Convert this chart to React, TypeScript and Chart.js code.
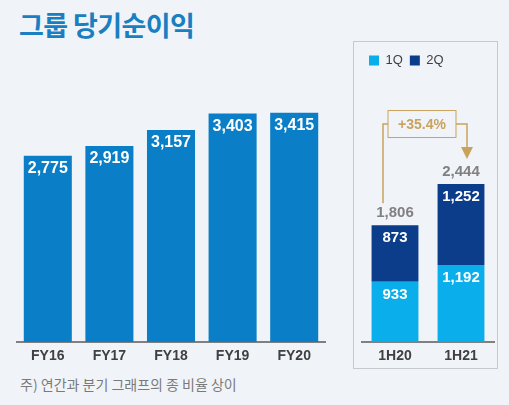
import React, { useEffect, useRef } from "react";
import { Chart, registerables } from "chart.js";

Chart.register(...registerables);

// ---- data ----
const titleText = "그룹 당기순이익";
const footnoteText = "주) 연간과 분기 그래프의 종 비율 상이";
const annualLabels = ["FY16", "FY17", "FY18", "FY19", "FY20"];
const annualValues = [2775, 2919, 3157, 3403, 3415];
const halfLabels = ["1H20", "1H21"];
const seriesNames = ["1Q", "2Q"];
const q1Values = [933, 1192];
const q2Values = [873, 1252];
const halfTotals = [1806, 2444];
const growthText = "+35.4%";

const BG = "#f0f4f9";
const FONT = '"Liberation Sans", Arial, sans-serif';
const GOLD = "#c9a35c";

const fmt = (v: number) => v.toLocaleString("en-US");

const insideLabels = (size: number) => ({
  id: "insideLabels",
  afterDatasetsDraw(chart: any) {
    const ctx = chart.ctx;
    ctx.save();
    ctx.fillStyle = "#ffffff";
    ctx.font = `bold ${size}px ${FONT}`;
    ctx.textAlign = "center";
    ctx.textBaseline = "middle";
    chart.data.datasets.forEach((ds: any, i: number) => {
      const meta = chart.getDatasetMeta(i);
      meta.data.forEach((bar: any, j: number) => {
        ctx.fillText(fmt(ds.data[j]), bar.x, bar.y + 13);
      });
    });
    ctx.restore();
  },
});

const growthPlugin = {
  id: "growth",
  afterDatasetsDraw(chart: any) {
    const ctx = chart.ctx;
    const tops = chart.getDatasetMeta(1).data;
    const a = tops[0];
    const b = tops[1];
    ctx.save();
    // totals
    ctx.fillStyle = "#808080";
    ctx.font = `bold 15px ${FONT}`;
    ctx.textAlign = "center";
    ctx.textBaseline = "middle";
    [a, b].forEach((bar: any, i: number) => {
      ctx.fillText(fmt(halfTotals[i]), bar.x, bar.y - 12);
    });
    // bracket
    const boxCx = (a.x + b.x) / 2 - 6;
    const boxCy = b.y - 60;
    const bw = 68;
    const bh = 27;
    const leftX = a.x - 12;
    const rightX = b.x + 6;
    const tipY = b.y - 25;
    ctx.strokeStyle = GOLD;
    ctx.lineWidth = 1.5;
    ctx.beginPath();
    ctx.moveTo(leftX, a.y - 22);
    ctx.lineTo(leftX, boxCy);
    ctx.lineTo(boxCx - bw / 2, boxCy);
    ctx.moveTo(boxCx + bw / 2, boxCy);
    ctx.lineTo(rightX, boxCy);
    ctx.lineTo(rightX, tipY - 10);
    ctx.stroke();
    ctx.fillStyle = GOLD;
    ctx.beginPath();
    ctx.moveTo(rightX - 6, tipY - 12);
    ctx.lineTo(rightX + 6, tipY - 12);
    ctx.lineTo(rightX, tipY);
    ctx.closePath();
    ctx.fill();
    ctx.fillStyle = BG;
    ctx.fillRect(boxCx - bw / 2, boxCy - bh / 2, bw, bh);
    ctx.lineWidth = 1;
    ctx.strokeRect(boxCx - bw / 2, boxCy - bh / 2, bw, bh);
    ctx.fillStyle = GOLD;
    ctx.font = `bold 14px ${FONT}`;
    ctx.fillText(growthText, boxCx, boxCy + 1);
    ctx.restore();
  },
};

const xAxis = (h: number) => ({
  grid: { display: false, drawTicks: false },
  border: { display: true, color: "#808080", width: 2 },
  ticks: { color: "#404040", font: { family: FONT, size: 14, weight: "bold" as const }, padding: 6 },
  afterFit: (s: any) => {
    s.height = h;
  },
});

export default function App() {
  const leftRef = useRef<HTMLCanvasElement>(null);
  const rightRef = useRef<HTMLCanvasElement>(null);

  useEffect(() => {
    const left = new Chart(leftRef.current!, {
      type: "bar",
      data: {
        labels: annualLabels,
        datasets: [
          {
            label: "당기순이익",
            data: annualValues,
            backgroundColor: "#0a7fc8",
            barPercentage: 0.78,
            categoryPercentage: 1,
          },
        ],
      },
      options: {
        animation: false,
        responsive: false,
        layout: { padding: { left: 17, right: 10, top: 0, bottom: 0 } },
        plugins: { legend: { display: false }, tooltip: { enabled: false } },
        scales: {
          x: xAxis(28),
          y: { display: false, min: 0, max: 4200 },
        },
      },
      plugins: [insideLabels(16)],
    });

    const right = new Chart(rightRef.current!, {
      type: "bar",
      data: {
        labels: halfLabels,
        datasets: [
          {
            label: seriesNames[0],
            data: q1Values,
            backgroundColor: "#0aaeea",
            barPercentage: 0.71,
            categoryPercentage: 1,
          },
          {
            label: seriesNames[1],
            data: q2Values,
            backgroundColor: "#0c3d8b",
            barPercentage: 0.71,
            categoryPercentage: 1,
          },
        ],
      },
      options: {
        animation: false,
        responsive: false,
        layout: { padding: { left: 22, right: 15, top: 4, bottom: 0 } },
        plugins: {
          legend: {
            display: true,
            position: "top",
            align: "start",
            labels: {
              boxWidth: 10,
              boxHeight: 10,
              padding: 7,
              color: "#404040",
              font: { family: FONT, size: 13 },
            },
          },
          tooltip: { enabled: false },
        },
        scales: {
          x: { ...xAxis(27), stacked: true },
          y: { display: false, stacked: true, min: 0, max: 4100 },
        },
      },
      plugins: [insideLabels(15), growthPlugin],
    });

    return () => {
      left.destroy();
      right.destroy();
    };
  }, []);

  return (
    <div
      style={{
        position: "absolute",
        left: 0,
        top: 0,
        width: 509,
        height: 405,
        background: BG,
        overflow: "hidden",
      }}
    >
      <div
        style={{
          position: "absolute",
          left: 19,
          top: 10,
          fontFamily: '"Noto Sans CJK KR", sans-serif',
          fontWeight: 700,
          fontSize: 27,
          lineHeight: "30px",
          color: "#1a7fc1",
          letterSpacing: "-0.6px",
          whiteSpace: "nowrap",
        }}
      >
        {titleText}
      </div>
      <div
        style={{
          position: "absolute",
          left: 353,
          top: 41,
          width: 145,
          height: 328,
          border: "1px solid #c6cad0",
          boxSizing: "border-box",
        }}
      />
      <canvas
        ref={leftRef}
        width={335}
        height={310}
        style={{ position: "absolute", left: 0, top: 60, width: 335, height: 310 }}
      />
      <canvas
        ref={rightRef}
        width={169}
        height={326}
        style={{ position: "absolute", left: 340, top: 43, width: 169, height: 326 }}
      />
      <div
        style={{
          position: "absolute",
          left: 20,
          top: 374,
          fontFamily: '"Noto Sans CJK KR", sans-serif',
          fontSize: 14,
          lineHeight: "20px",
          color: "#7a7a7a",
          letterSpacing: "0px",
          whiteSpace: "nowrap",
        }}
      >
        {footnoteText}
      </div>
    </div>
  );
}
